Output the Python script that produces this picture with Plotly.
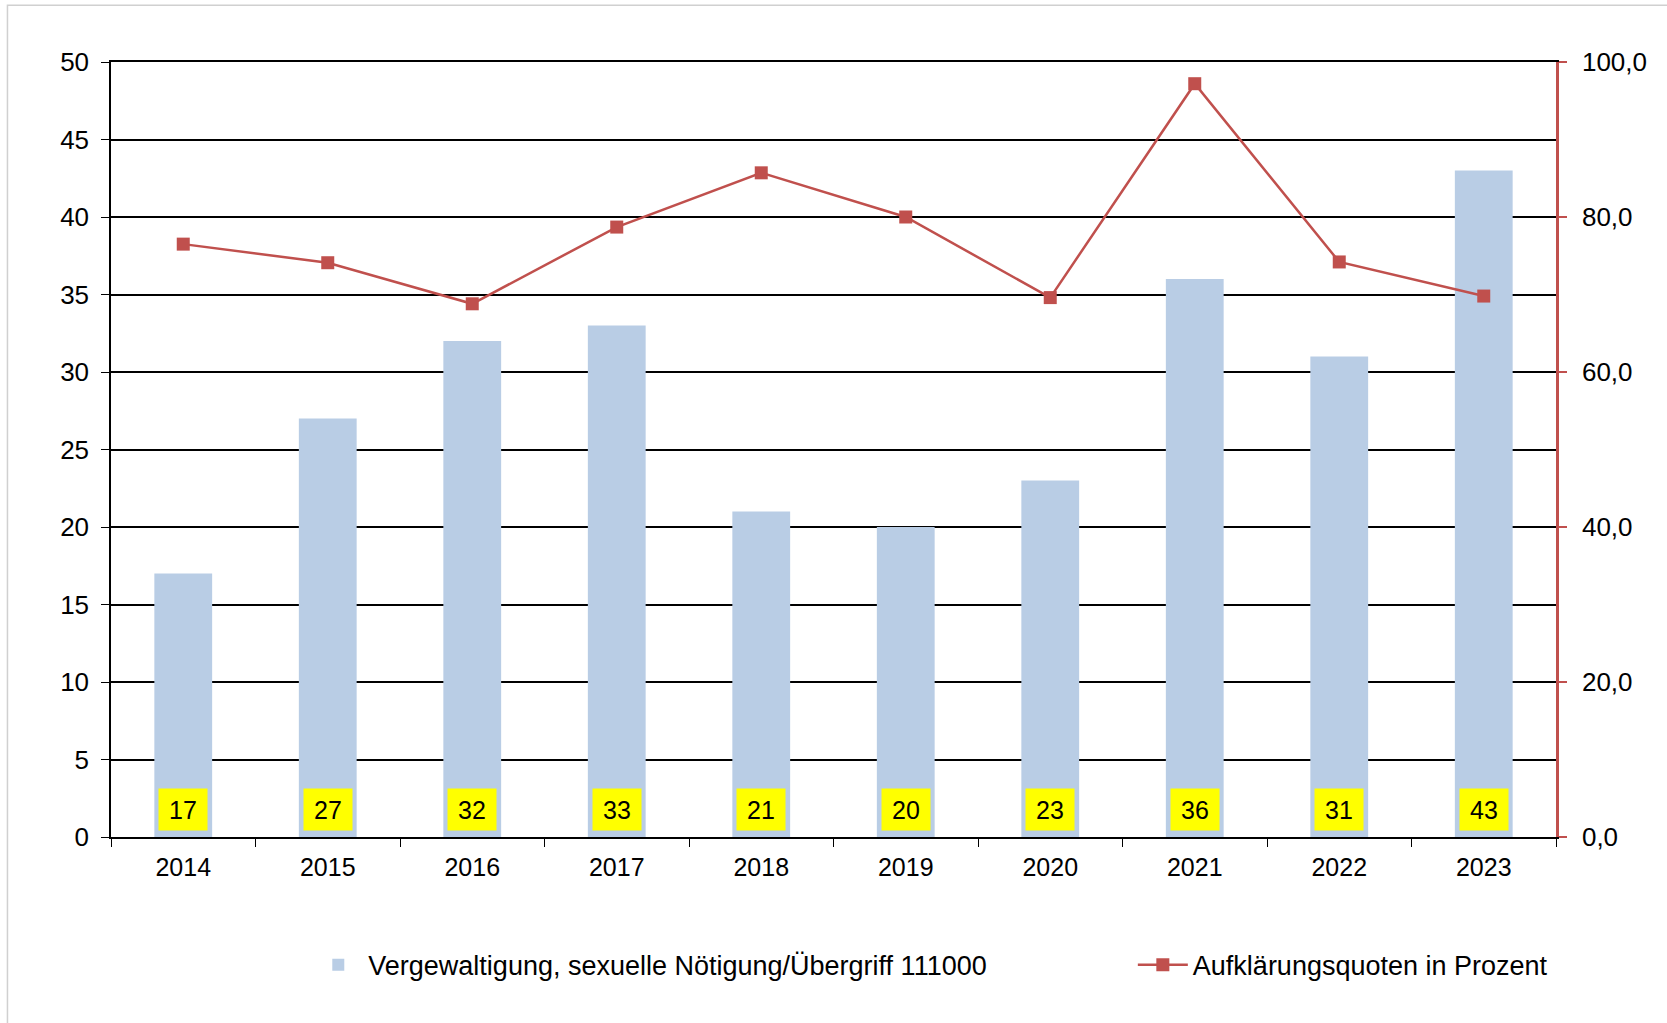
import plotly.graph_objects as go

years = ["2014", "2015", "2016", "2017", "2018", "2019", "2020", "2021", "2022", "2023"]
cases = [17, 27, 32, 33, 21, 20, 23, 36, 31, 43]
clearance = [76.5, 74.1, 68.8, 78.7, 85.7, 80.0, 69.6, 97.2, 74.2, 69.8]

bar_name = "Vergewaltigung, sexuelle Nötigung/Übergriff 111000"
line_name = "Aufklärungsquoten in Prozent"

FONT = "Liberation Sans, Arial, sans-serif"
RED = "#C0504D"
BLUE = "#B9CDE5"

fig = go.Figure()
fig.add_trace(go.Bar(
    x=years, y=cases, name=bar_name, marker=dict(color=BLUE, line=dict(width=0)),
    width=0.4, yaxis="y", legend="legend",
))
fig.add_trace(go.Scatter(
    x=years, y=clearance, name=line_name, yaxis="y2", mode="lines+markers",
    line=dict(color=RED, width=2.5),
    marker=dict(symbol="square", size=13, color=RED),
    legend="legend2",
))

annotations = []
for i, v in enumerate(cases):
    annotations.append(dict(
        x=i, y=0, xref="x", yref="y", yanchor="bottom", yshift=6,
        text=str(v), showarrow=False, bgcolor="#FFFF00",
        width=46, height=39, align="center", valign="middle",
        font=dict(family=FONT, size=25, color="black"),
    ))

# Outer chart frame (light gray)
px_l, px_r, px_t, px_b = 110.6, 1556.4, 61.7, 836.7
pw, ph = px_r - px_l, px_b - px_t
frame = dict(
    type="rect", xref="paper", yref="paper", layer="below",
    x0=(7 - px_l) / pw, x1=(1720 - px_l) / pw,
    y0=(px_b - 1100) / ph, y1=(px_b - 5) / ph,
    line=dict(color="#D0D0D0", width=1.5), fillcolor="rgba(0,0,0,0)",
)

legend_common = dict(
    orientation="h", xanchor="left", yanchor="middle",
    y=(px_b - 965) / ph,
    font=dict(family=FONT, size=27, color="black"),
    itemwidth=50, bgcolor="rgba(0,0,0,0)",
)

fig.update_layout(
    width=1667, height=1023,
    margin=dict(l=111, r=111, t=62, b=186, autoexpand=False),
    paper_bgcolor="white", plot_bgcolor="white",
    separators=",.",
    font=dict(family=FONT, size=25, color="black"),
    showlegend=True,
    legend=dict(legend_common, x=(308 - px_l) / pw),
    legend2=dict(legend_common, x=(1133 - px_l) / pw),
    xaxis=dict(
        type="category", range=[-0.5, 9.5], tickson="boundaries",
        ticks="outside", ticklen=8, tickwidth=1.2, tickcolor="black",
        showline=True, linecolor="black", linewidth=1.5, mirror=True,
        showgrid=False, tickfont=dict(size=25), ticklabelstandoff=7,
    ),
    yaxis=dict(
        range=[0, 50], dtick=5, tick0=0,
        showgrid=True, gridcolor="black", gridwidth=1.5,
        showline=True, linecolor="black", linewidth=1.5,
        ticks="outside", ticklen=8, tickwidth=1.2, tickcolor="black",
        zeroline=False, tickfont=dict(size=26), ticklabelstandoff=7,
    ),
    yaxis2=dict(
        overlaying="y", side="right", range=[0, 100], dtick=20, tick0=0,
        tickformat=".1f", showgrid=False, zeroline=False,
        showline=True, linecolor=RED, linewidth=2.5,
        ticks="outside", ticklen=8, tickwidth=2, tickcolor=RED,
        tickfont=dict(size=26), ticklabelstandoff=10,
    ),
    annotations=annotations,
    shapes=[frame],
)

fig.write_html(
    "out.html",
    config={"displayModeBar": False},
    post_script="document.body.style.margin='0';document.body.style.overflow='hidden';",
)
